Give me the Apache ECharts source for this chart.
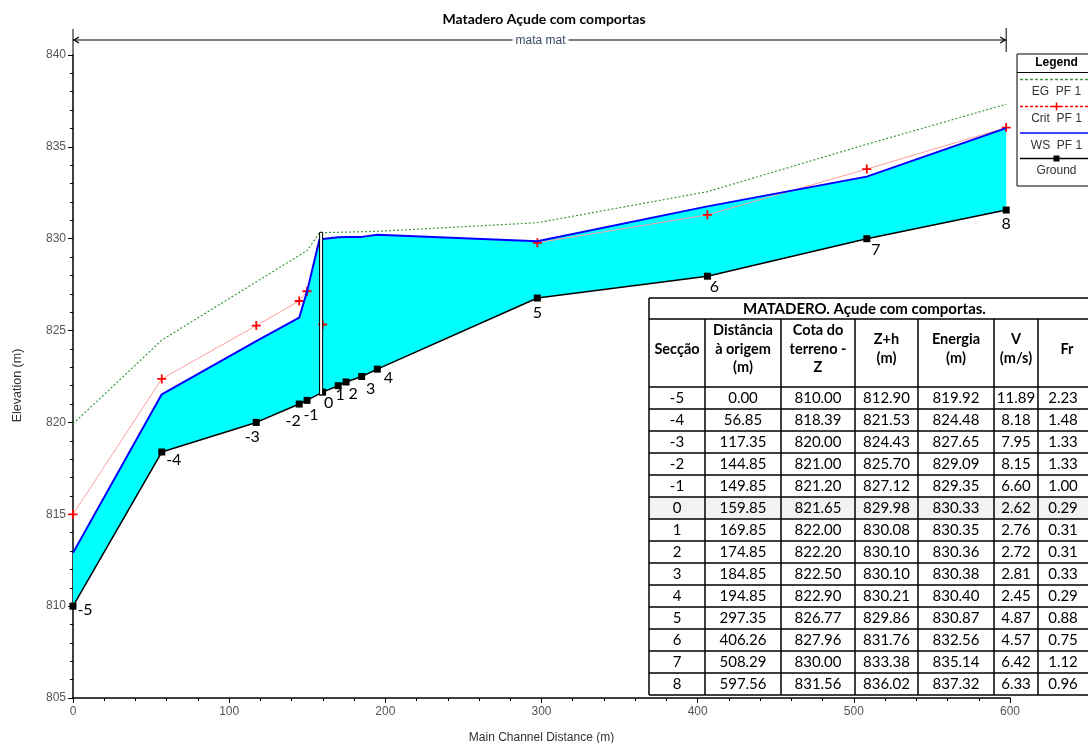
<!DOCTYPE html>
<html>
<head>
<meta charset="utf-8">
<script src="https://cdn.jsdelivr.net/npm/echarts@6/dist/echarts.min.js"></script>
<style>
html,body{margin:0;padding:0;background:#fff;}
#chart{width:1088px;height:743px;}
</style>
</head>
<body>
<div id="chart"></div>
<script>
// ---------- data ----------
const sections = ['-5','-4','-3','-2','-1','0','1','2','3','4','5','6','7','8'];
const distance = [0.00, 56.85, 117.35, 144.85, 149.85, 159.85, 169.85, 174.85, 184.85, 194.85, 297.35, 406.26, 508.29, 597.56];
const groundZ  = [810.00, 818.39, 820.00, 821.00, 821.20, 821.65, 822.00, 822.20, 822.50, 822.90, 826.77, 827.96, 830.00, 831.56];
const wsZh     = [812.90, 821.53, 824.43, 825.70, 827.12, 829.98, 830.08, 830.10, 830.10, 830.21, 829.86, 831.76, 833.38, 836.02];
const energy   = [819.92, 824.48, 827.65, 829.09, 829.35, 830.33, 830.35, 830.36, 830.38, 830.40, 830.87, 832.56, 835.14, 837.32];
const velocity = [11.89, 8.18, 7.95, 8.15, 6.60, 2.62, 2.76, 2.72, 2.81, 2.45, 4.87, 4.57, 6.42, 6.33];
const froude   = [2.23, 1.48, 1.33, 1.33, 1.00, 0.29, 0.31, 0.31, 0.33, 0.29, 0.88, 0.75, 1.12, 0.96];
// critical depth elevations (null = not drawn)
const critZ    = [815.00, 822.37, 825.27, 826.61, 827.14, 825.33, null, null, null, null, 829.78, 831.30, 833.79, 836.05];
// inline structure (gate)
const gateStart = 157.9, gateEnd = 159.85, gateBottom = 821.5, gateTop = 830.35;
const gateFaceWs = 829.98, gateFaceEg = 830.33;
const xTicks = [0, 100, 200, 300, 400, 500, 600];
const yTicks = [805, 810, 815, 820, 825, 830, 835, 840];
const reachName = 'mata mat';
const chartTitle = 'Matadero Açude com comportas';
const tableTitle = 'MATADERO. Açude com comportas.';
const tableHeaders = ['Secção', 'Distância\nà origem\n(m)', 'Cota do\nterreno -\nZ', 'Z+h\n(m)', 'Energia\n(m)', 'V\n(m/s)', 'Fr'];

// ---------- label placement (style) ----------
const groundLabelOffset = [[12,4],[12,8],[-4,14],[-6,17],[4,14],[6,11],[2,9],[7,12],[9,12],[11,9],[0,15],[7,11],[9,11],[0,14]];

// ---------- build series data ----------
const groundData = distance.map((x, i) => ({
  value: [x, groundZ[i]],
  label: { offset: groundLabelOffset[i] }
}));
const wsData = [], egData = [], critData = [];
distance.forEach((x, i) => {
  if (i > 0 && distance[i - 1] < gateStart && x >= gateStart) {
    wsData.push([gateStart, gateFaceWs]);
    egData.push([gateStart, gateFaceEg]);
    critData.push([gateStart, '-']);
  }
  wsData.push([x, wsZh[i]]);
  egData.push([x, energy[i]]);
  critData.push([x, critZ[i] == null ? '-' : critZ[i]]);
});

const chart = echarts.init(document.getElementById('chart'), null, { renderer: 'canvas' });
const FONT = 'Liberation Sans, Arial, sans-serif';
const plusPath = 'path://M4,0 H6 V4 H10 V6 H6 V10 H4 V6 H0 V4 H4 Z';
const EG_COLOR = '#3c9a3c';

const option = {
  backgroundColor: '#ffffff',
  animation: false,
  grid: { left: 73, right: 78, top: 55, bottom: 45, containLabel: false, outerBoundsMode: 'none' },
  xAxis: {
    type: 'value', min: xTicks[0], max: xTicks[xTicks.length - 1], interval: 100,
    name: 'Main Channel Distance (m)', nameLocation: 'middle', nameGap: 34,
    nameTextStyle: { fontFamily: FONT, fontSize: 12, color: '#333' },
    axisLine: { onZero: false, lineStyle: { color: '#000', width: 1.5 } },
    axisTick: { show: true, length: 5, lineStyle: { color: '#000' } },
    minorTick: { show: true, splitNumber: 5, length: 3, lineStyle: { color: '#000' } },
    axisLabel: { fontFamily: FONT, fontSize: 12, color: '#555', margin: 8 },
    splitLine: { show: false }
  },
  yAxis: {
    type: 'value', min: yTicks[0], max: yTicks[yTicks.length - 1], interval: 5,
    name: 'Elevation (m)', nameLocation: 'middle', nameGap: 49, nameRotate: 90,
    nameTextStyle: { fontFamily: FONT, fontSize: 12.5, color: '#333', padding: [0, 0, 0, -18] },
    axisLine: { onZero: false, lineStyle: { color: '#000', width: 1.5 } },
    axisTick: { show: true, length: 5, lineStyle: { color: '#000' } },
    minorTick: { show: true, splitNumber: 5, length: 3, lineStyle: { color: '#000' } },
    axisLabel: { fontFamily: FONT, fontSize: 12, color: '#555', margin: 7 },
    splitLine: { show: false }
  },
  series: [
    {
      name: 'fill', type: 'custom', z: 1, silent: true,
      data: distance.map((x, i) => [x, groundZ[i]]),
      encode: { x: 0, y: 1 },
      renderItem: function (params, api) {
        if (params.dataIndex !== 0) return null;
        const pts = [];
        distance.forEach((x, i) => pts.push(api.coord([x, groundZ[i]])));
        for (let i = wsData.length - 1; i >= 0; i--) pts.push(api.coord(wsData[i]));
        return { type: 'polygon', shape: { points: pts }, style: { fill: '#00ffff', stroke: null } };
      }
    },
    {
      name: 'EG  PF 1', type: 'line', z: 3, data: egData, showSymbol: false,
      lineStyle: { color: EG_COLOR, width: 1.2, type: [2, 2] }
    },
    {
      name: 'Crit  PF 1', type: 'line', z: 4, data: critData, connectNulls: false,
      symbol: plusPath, symbolSize: 9, showSymbol: true,
      itemStyle: { color: '#ff0000' },
      lineStyle: { color: '#ff9f9f', width: 1 }
    },
    {
      name: 'WS  PF 1', type: 'line', z: 5, data: wsData, showSymbol: false,
      lineStyle: { color: '#0000ff', width: 2 }
    },
    {
      name: 'Ground', type: 'line', z: 6, data: groundData,
      symbol: 'rect', symbolSize: 7, showSymbol: true,
      itemStyle: { color: '#000' },
      lineStyle: { color: '#000', width: 1.5 },
      label: {
        show: true, position: 'inside', color: '#000', fontSize: 16, fontFamily: 'Lato, sans-serif',
        formatter: p => sections[p.dataIndex]
      }
    },
    {
      name: 'gate', type: 'custom', z: 7, silent: true,
      data: [[gateStart, gateEnd, gateBottom, gateTop]],
      encode: { x: [0, 1], y: [2, 3] },
      renderItem: function (params, api) {
        const a = api.coord([api.value(0), api.value(3)]);
        const b = api.coord([api.value(1), api.value(2)]);
        return { type: 'rect', shape: { x: a[0], y: a[1], width: b[0] - a[0], height: b[1] - a[1] },
                 style: { fill: '#ffffff', stroke: '#000', lineWidth: 1 } };
      }
    }
  ]
};
chart.setOption(option);

// ---------- overlays: title, reach arrow, legend, table ----------
const g = [];
g.push({ type: 'text', left: 'center', top: 12, style: { text: chartTitle, font: 'bold 14px Lato, sans-serif', fill: '#000' }, z: 10 });

const pL = chart.convertToPixel({ gridIndex: 0 }, [distance[0], 840]);
const pR = chart.convertToPixel({ gridIndex: 0 }, [distance[distance.length - 1], 840]);
const ay = 40;
g.push({ type: 'line', shape: { x1: pL[0], y1: 29, x2: pL[0], y2: pL[1] }, style: { stroke: '#000', lineWidth: 1 }, z: 10 });
g.push({ type: 'line', shape: { x1: pR[0], y1: 28, x2: pR[0], y2: 52 }, style: { stroke: '#000', lineWidth: 1 }, z: 10 });
g.push({ type: 'line', shape: { x1: pL[0], y1: ay, x2: pR[0], y2: ay }, style: { stroke: '#000', lineWidth: 1.2 }, z: 10 });
g.push({ type: 'polyline', shape: { points: [[pL[0] + 6, ay - 3], [pL[0] + 1, ay], [pL[0] + 6, ay + 3]] }, style: { stroke: '#000', lineWidth: 1.2, fill: null }, z: 10 });
g.push({ type: 'polyline', shape: { points: [[pR[0] - 6, ay - 3], [pR[0] - 1, ay], [pR[0] - 6, ay + 3]] }, style: { stroke: '#000', lineWidth: 1.2, fill: null }, z: 10 });
const mid = (pL[0] + pR[0]) / 2 + 1;
g.push({ type: 'rect', shape: { x: mid - 28, y: ay - 7, width: 56, height: 14 }, style: { fill: '#fff' }, z: 11 });
g.push({ type: 'text', x: mid, y: ay + 1, style: { text: reachName, font: '12px ' + FONT, fill: '#3b4a66', textAlign: 'center', textVerticalAlign: 'middle' }, z: 12 });

// legend box
const lgX = 1017, lgY = 54, lgW = 80, lgH = 132, lgC = 1056.5;
g.push({ type: 'rect', shape: { x: lgX, y: lgY, width: lgW, height: lgH }, style: { fill: '#fff', stroke: '#000', lineWidth: 1 }, z: 20 });
g.push({ type: 'line', shape: { x1: lgX, y1: 72.5, x2: lgX + lgW, y2: 72.5 }, style: { stroke: '#000', lineWidth: 1 }, z: 21 });
g.push({ type: 'text', x: lgC, y: 63, style: { text: 'Legend', font: 'bold 12px ' + FONT, fill: '#000', textAlign: 'center', textVerticalAlign: 'middle' }, z: 21 });
const legendItems = [
  { name: option.series[1].name, ly: 79.5, ty: 92, stroke: EG_COLOR, dash: [3, 2], sym: null },
  { name: option.series[2].name, ly: 106.5, ty: 118.5, stroke: '#ff0000', dash: [3, 2], sym: 'plus' },
  { name: option.series[3].name, ly: 133, ty: 145.5, stroke: '#0000ff', dash: null, sym: null },
  { name: option.series[4].name, ly: 158.5, ty: 170.5, stroke: '#000', dash: null, sym: 'rect' }
];
legendItems.forEach(it => {
  g.push({ type: 'line', shape: { x1: lgX + 3, y1: it.ly, x2: lgX + lgW, y2: it.ly }, style: { stroke: it.stroke, lineWidth: 1.5, lineDash: it.dash }, z: 21 });
  if (it.sym === 'plus') {
    g.push({ type: 'line', shape: { x1: lgC - 4, y1: it.ly, x2: lgC + 4, y2: it.ly }, style: { stroke: '#f00', lineWidth: 1.5 }, z: 22 });
    g.push({ type: 'line', shape: { x1: lgC, y1: it.ly - 4, x2: lgC, y2: it.ly + 4 }, style: { stroke: '#f00', lineWidth: 1.5 }, z: 22 });
  }
  if (it.sym === 'rect') {
    g.push({ type: 'rect', shape: { x: lgC - 3, y: it.ly - 3, width: 6, height: 6 }, style: { fill: '#000' }, z: 22 });
  }
  g.push({ type: 'text', x: lgC, y: it.ty, style: { text: it.name, font: '12px ' + FONT, fill: '#333', textAlign: 'center', textVerticalAlign: 'middle' }, z: 21 });
});

// data table
const colX = [649, 705, 781, 855, 918, 994, 1038, 1096];
const tTop = 298, tTitleB = 319, tHeadB = 387, rowH = 22;
const tBottom = tHeadB + rowH * sections.length;
const TFONT = 'Lato, "Open Sans", sans-serif';
g.push({ type: 'rect', shape: { x: colX[0], y: tTop, width: colX[7] - colX[0], height: tBottom - tTop }, style: { fill: '#fff' }, z: 30 });
const hi = sections.indexOf('0');
g.push({ type: 'rect', shape: { x: colX[0], y: tHeadB + hi * rowH, width: colX[7] - colX[0], height: rowH }, style: { fill: '#f2f2f2' }, z: 30 });
const hLines = [tTop, tTitleB, tHeadB];
for (let i = 1; i <= sections.length; i++) hLines.push(tHeadB + i * rowH);
hLines.forEach(y => g.push({ type: 'line', shape: { x1: colX[0], y1: y, x2: colX[7], y2: y }, style: { stroke: '#000', lineWidth: 1.5 }, z: 31 }));
colX.forEach((x, k) => g.push({ type: 'line', shape: { x1: x, y1: (k === 0 || k === 7) ? tTop : tTitleB, x2: x, y2: tBottom }, style: { stroke: '#000', lineWidth: 1.5 }, z: 31 }));
g.push({ type: 'text', x: (colX[0] + colX[7]) / 2 - 8, y: (tTop + tTitleB) / 2 + 1, style: { text: tableTitle, font: 'bold 15px ' + TFONT, fill: '#000', textAlign: 'center', textVerticalAlign: 'middle' }, z: 32 });
tableHeaders.forEach((h, k) => {
  g.push({ type: 'text', x: (colX[k] + colX[k + 1]) / 2, y: (tTitleB + tHeadB) / 2 - 4,
    style: { text: h, font: 'bold 14.5px ' + TFONT, fill: '#000', textAlign: 'center', textVerticalAlign: 'middle', lineHeight: 18.5 }, z: 32 });
});
sections.forEach((s, i) => {
  const vals = [s, distance[i].toFixed(2), groundZ[i].toFixed(2), wsZh[i].toFixed(2), energy[i].toFixed(2), velocity[i].toFixed(2), froude[i].toFixed(2)];
  vals.forEach((v, k) => {
    g.push({ type: 'text', x: (colX[k] + colX[k + 1]) / 2 - (k === 6 ? 4 : 0), y: tHeadB + i * rowH + rowH / 2 + 0.5,
      style: { text: v, font: '15px ' + TFONT, fill: '#000', textAlign: 'center', textVerticalAlign: 'middle' }, z: 32 });
  });
});

chart.setOption({ graphic: { elements: g } });
</script>
</body>
</html>
